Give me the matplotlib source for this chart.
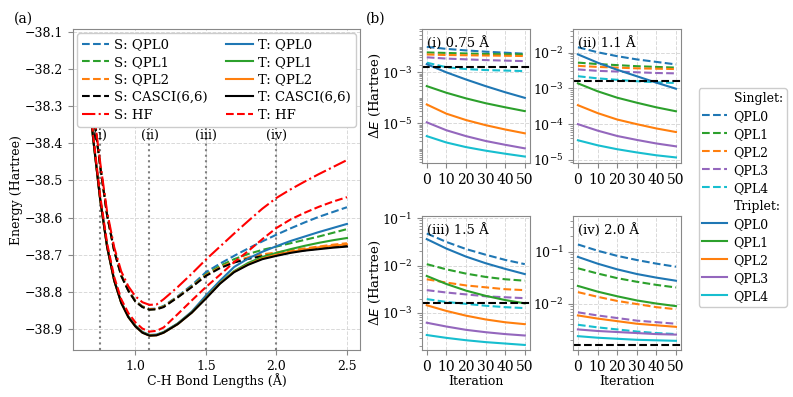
import numpy as np
import matplotlib
matplotlib.use("Agg")
import matplotlib.pyplot as plt
from matplotlib.lines import Line2D
from matplotlib.ticker import FixedLocator, LogLocator, NullFormatter

plt.rcParams['font.family'] = ['DejaVu Serif']
plt.rcParams['mathtext.fontset'] = 'custom'
plt.rcParams['mathtext.rm'] = 'DejaVu Serif'
plt.rcParams['mathtext.it'] = 'DejaVu Sans:italic'
plt.rcParams['mathtext.bf'] = 'DejaVu Serif:bold'
plt.rcParams['mathtext.sf'] = 'DejaVu Sans'
plt.rcParams['font.size'] = 9

# ---------------- Panel (a) data ----------------
R = [0.65, 0.70, 0.75, 0.80, 0.85, 0.90, 0.95, 1.00, 1.05, 1.10, 1.15, 1.20,
     1.30, 1.40, 1.50, 1.60, 1.70, 1.80, 1.90, 2.00, 2.10, 2.20, 2.30, 2.40, 2.50]

S_QPL0 = [-38.138, -38.308, -38.458, -38.593, -38.688, -38.755, -38.795, -38.824, -38.839, -38.846, -38.845, -38.838,
          -38.812, -38.782, -38.747, -38.724, -38.703, -38.683, -38.664, -38.646, -38.629, -38.613, -38.598, -38.585, -38.572]
S_QPL1 = [-38.139, -38.309, -38.459, -38.594, -38.689, -38.756, -38.796, -38.825, -38.840, -38.847, -38.846, -38.839,
          -38.814, -38.785, -38.753, -38.730, -38.712, -38.698, -38.687, -38.678, -38.669, -38.660, -38.651, -38.641, -38.631]
S_QPL2 = [-38.139, -38.309, -38.459, -38.594, -38.689, -38.756, -38.796, -38.825, -38.840, -38.847, -38.846, -38.840,
          -38.814, -38.786, -38.755, -38.734, -38.718, -38.707, -38.699, -38.694, -38.688, -38.683, -38.678, -38.673, -38.669]
S_CASCI = [-38.140, -38.310, -38.460, -38.595, -38.690, -38.757, -38.797, -38.826, -38.841, -38.848, -38.847, -38.841,
           -38.815, -38.787, -38.757, -38.736, -38.721, -38.711, -38.704, -38.699, -38.693, -38.688, -38.683, -38.679, -38.676]
S_HF = [-38.135, -38.300, -38.450, -38.585, -38.680, -38.745, -38.785, -38.812, -38.828, -38.835, -38.834, -38.820,
        -38.787, -38.751, -38.713, -38.678, -38.643, -38.609, -38.576, -38.547, -38.524, -38.503, -38.483, -38.464, -38.445]

T_QPL0 = [-38.178, -38.383, -38.548, -38.678, -38.768, -38.828, -38.866, -38.891, -38.908, -38.916, -38.915, -38.908,
          -38.885, -38.853, -38.810, -38.770, -38.733, -38.710, -38.692, -38.677, -38.663, -38.651, -38.639, -38.628, -38.617]
T_QPL1 = [-38.179, -38.384, -38.549, -38.679, -38.769, -38.829, -38.867, -38.892, -38.909, -38.917, -38.916, -38.909,
          -38.886, -38.855, -38.816, -38.776, -38.744, -38.722, -38.706, -38.695, -38.685, -38.676, -38.668, -38.661, -38.655]
T_QPL2 = [-38.180, -38.385, -38.550, -38.680, -38.770, -38.830, -38.868, -38.893, -38.910, -38.918, -38.917, -38.910,
          -38.887, -38.856, -38.817, -38.777, -38.746, -38.726, -38.710, -38.700, -38.692, -38.686, -38.680, -38.676, -38.672]
T_CASCI = [-38.180, -38.385, -38.550, -38.680, -38.770, -38.830, -38.868, -38.893, -38.910, -38.918, -38.917, -38.910,
           -38.887, -38.856, -38.818, -38.778, -38.747, -38.727, -38.712, -38.703, -38.695, -38.689, -38.685, -38.681, -38.678]
T_HF = [-38.170, -38.375, -38.540, -38.670, -38.760, -38.820, -38.857, -38.882, -38.899, -38.907, -38.905, -38.896,
        -38.860, -38.823, -38.787, -38.754, -38.720, -38.690, -38.658, -38.628, -38.605, -38.587, -38.571, -38.557, -38.545]

marker_R = [0.75, 1.1, 1.5, 2.0]
marker_labels = ['(i)', '(ii)', '(iii)', '(iv)']

# ---------------- Panel (b) data (log10 of energy error, Hartree) ----------------
iters = [0, 10, 20, 30, 40, 50]
qpl_labels = ['QPL0', 'QPL1', 'QPL2', 'QPL3', 'QPL4']
chem_acc = 1.6e-3

# (i) 0.75 A
sing_075 = [[-2.00, -2.08, -2.14, -2.19, -2.23, -2.27],
            [-2.22, -2.24, -2.26, -2.28, -2.29, -2.30],
            [-2.30, -2.32, -2.33, -2.34, -2.35, -2.36],
            [-2.41, -2.46, -2.49, -2.52, -2.54, -2.56],
            [-2.62, -2.80, -2.87, -2.91, -2.93, -2.95]]
trip_075 = [[-2.68, -3.00, -3.28, -3.54, -3.78, -4.00],
            [-3.54, -3.80, -4.02, -4.21, -4.37, -4.52],
            [-4.26, -4.62, -4.87, -5.07, -5.24, -5.39],
            [-4.96, -5.27, -5.50, -5.69, -5.84, -5.98],
            [-5.50, -5.75, -5.93, -6.07, -6.19, -6.30]]
# (ii) 1.1 A
sing_110 = [[-1.85, -1.99, -2.10, -2.19, -2.26, -2.33],
            [-2.28, -2.32, -2.35, -2.38, -2.40, -2.42],
            [-2.37, -2.40, -2.42, -2.44, -2.45, -2.46],
            [-2.47, -2.51, -2.53, -2.55, -2.57, -2.58],
            [-2.66, -2.72, -2.76, -2.80, -2.83, -2.85]]
trip_110 = [[-2.05, -2.28, -2.48, -2.66, -2.84, -3.01],
            [-2.86, -3.08, -3.26, -3.40, -3.53, -3.64],
            [-3.47, -3.69, -3.87, -4.00, -4.12, -4.22],
            [-4.00, -4.18, -4.33, -4.44, -4.54, -4.62],
            [-4.45, -4.59, -4.70, -4.79, -4.87, -4.93]]
# (iii) 1.5 A
sing_150 = [[-1.32, -1.50, -1.65, -1.77, -1.88, -1.97],
            [-1.97, -2.08, -2.17, -2.24, -2.29, -2.32],
            [-2.29, -2.36, -2.42, -2.46, -2.50, -2.52],
            [-2.52, -2.57, -2.61, -2.65, -2.67, -2.69],
            [-2.71, -2.77, -2.81, -2.85, -2.88, -2.90]]
trip_150 = [[-1.44, -1.64, -1.81, -1.95, -2.07, -2.18],
            [-2.22, -2.39, -2.53, -2.64, -2.73, -2.80],
            [-2.84, -2.96, -3.06, -3.14, -3.20, -3.24],
            [-3.21, -3.29, -3.36, -3.41, -3.45, -3.48],
            [-3.47, -3.53, -3.58, -3.62, -3.65, -3.68]]
# (iv) 2.0 A
sing_200 = [[-0.86, -0.98, -1.08, -1.16, -1.23, -1.29],
            [-1.32, -1.42, -1.51, -1.58, -1.64, -1.69],
            [-1.78, -1.87, -1.95, -2.01, -2.07, -2.11],
            [-2.17, -2.23, -2.28, -2.33, -2.36, -2.39],
            [-2.41, -2.46, -2.50, -2.54, -2.57, -2.59]]
trip_200 = [[-1.10, -1.23, -1.34, -1.43, -1.50, -1.56],
            [-1.66, -1.77, -1.86, -1.94, -2.00, -2.05],
            [-2.23, -2.29, -2.34, -2.39, -2.42, -2.45],
            [-2.50, -2.53, -2.55, -2.57, -2.59, -2.60],
            [-2.63, -2.66, -2.68, -2.70, -2.71, -2.72]]

panel_titles = ['(i) 0.75 Å', '(ii) 1.1 Å', '(iii) 1.5 Å', '(iv) 2.0 Å']
panel_ylims = [(-6.56, -1.30), (-5.09, -1.34), (-3.79, -0.95), (-2.90, -0.31)]
panel_major = [[1e-5, 1e-3], [1e-5, 1e-4, 1e-3, 1e-2], [1e-3, 1e-2, 1e-1], [1e-2, 1e-1]]

qpl_colors = ['tab:blue', 'tab:green', 'tab:orange', 'tab:purple', 'tab:cyan']
spine_col = '#888888'
grid_kw = dict(color='#d9d9d9', linestyle='--', linewidth=0.7)

fig = plt.figure(figsize=(7.93, 3.97), dpi=100)

def style_axes(ax):
    for s in ax.spines.values():
        s.set_color(spine_col)
    ax.tick_params(axis='both', which='both', color=spine_col, labelcolor='black')
    ax.grid(True, which='major', **grid_kw)
    ax.set_axisbelow(True)

# ---------------- Panel (a) ----------------
axa = fig.add_axes([0.092, 0.118, 0.362, 0.809])
style_axes(axa)
axa.tick_params(axis='both', which='major', labelsize=9)
for xv, lab in zip(marker_R, marker_labels):
    axa.axvline(xv, color='gray', linestyle=':', linewidth=1.5, zorder=1)
    axa.text(xv, -38.379, lab, ha='center', va='center', fontsize=9)

axa.plot(R, S_QPL0, '--', color='tab:blue', label='S: QPL0')
axa.plot(R, S_QPL1, '--', color='tab:green', label='S: QPL1')
axa.plot(R, S_QPL2, '--', color='tab:orange', label='S: QPL2')
axa.plot(R, S_CASCI, '--', color='black', label='S: CASCI(6,6)')
axa.plot(R, S_HF, '-.', color='red', label='S: HF')
axa.plot(R, T_QPL0, '-', color='tab:blue', label='T: QPL0')
axa.plot(R, T_QPL1, '-', color='tab:green', label='T: QPL1')
axa.plot(R, T_QPL2, '-', color='tab:orange', label='T: QPL2')
axa.plot(R, T_CASCI, '-', color='black', label='T: CASCI(6,6)')
axa.plot(R, T_HF, '--', color='red', label='T: HF')

axa.set_xlim(0.5575, 2.5925)
axa.set_ylim(-38.957, -38.092)
axa.set_yticks([-38.1, -38.2, -38.3, -38.4, -38.5, -38.6, -38.7, -38.8, -38.9])
axa.set_xticks([1.0, 1.5, 2.0, 2.5])
axa.set_xlabel('C-H Bond Lengths (Å)', labelpad=0.5)
axa.set_ylabel('Energy (Hartree)', labelpad=1)
leg = axa.legend(ncol=2, loc='upper center', bbox_to_anchor=(0.5, 1.0),
                 fontsize=9.5, framealpha=1.0, columnspacing=1.4,
                 handlelength=2.0, handletextpad=0.4, labelspacing=0.35,
                 borderaxespad=0.3)
leg.get_frame().set_edgecolor('#cccccc')
fig.text(0.018, 0.952, '(a)', fontsize=10, ha='left', va='center')
fig.text(0.461, 0.952, '(b)', fontsize=10, ha='left', va='center')

# ---------------- Panel (b) ----------------
pos = [[0.532, 0.589, 0.136, 0.338], [0.7226, 0.589, 0.136, 0.338],
       [0.532, 0.118, 0.136, 0.338], [0.7226, 0.118, 0.136, 0.338]]
sing_all = [sing_075, sing_110, sing_150, sing_200]
trip_all = [trip_075, trip_110, trip_150, trip_200]

for k in range(4):
    ax = fig.add_axes(pos[k])
    style_axes(ax)
    for j in range(5):
        ax.plot(iters, 10 ** np.array(sing_all[k][j]), '--', color=qpl_colors[j])
    for j in range(5):
        ax.plot(iters, 10 ** np.array(trip_all[k][j]), '-', color=qpl_colors[j])
    ax.axhline(chem_acc, color='black', linestyle='--', linewidth=1.5)
    ax.set_yscale('log')
    ax.set_ylim(10 ** panel_ylims[k][0], 10 ** panel_ylims[k][1])
    ax.yaxis.set_major_locator(FixedLocator(panel_major[k]))
    ax.yaxis.set_minor_locator(LogLocator(base=10, subs=np.arange(1, 10), numticks=20))
    ax.yaxis.set_minor_formatter(NullFormatter())
    ax.set_xlim(-2.5, 52.5)
    ax.set_xticks([0, 10, 20, 30, 40, 50])
    ax.tick_params(axis='x', which='major', labelsize=10)
    ax.tick_params(axis='y', which='major', labelsize=9)
    ax.text(0.05, 0.95, panel_titles[k], transform=ax.transAxes,
            ha='left', va='top', fontsize=9.5)
    if k in (0, 2):
        ax.set_ylabel('$\\Delta E$ (Hartree)', fontsize=9.5, labelpad=-1)
    if k in (2, 3):
        ax.set_xlabel('Iteration', labelpad=0.5)

handles = [Line2D([], [], linestyle='none', label='Singlet:')]
for j in range(5):
    handles.append(Line2D([], [], linestyle='--', color=qpl_colors[j], label=qpl_labels[j]))
handles.append(Line2D([], [], linestyle='none', label='Triplet:'))
for j in range(5):
    handles.append(Line2D([], [], linestyle='-', color=qpl_colors[j], label=qpl_labels[j]))
lg = fig.legend(handles=handles, loc='center left', bbox_to_anchor=(0.881, 0.503),
                fontsize=9, framealpha=1.0, handlelength=2.0, borderaxespad=0.0,
                labelspacing=0.4, handletextpad=0.5, borderpad=0.3)
lg.get_frame().set_edgecolor('#cccccc')

fig.savefig('out.png', dpi=100)
